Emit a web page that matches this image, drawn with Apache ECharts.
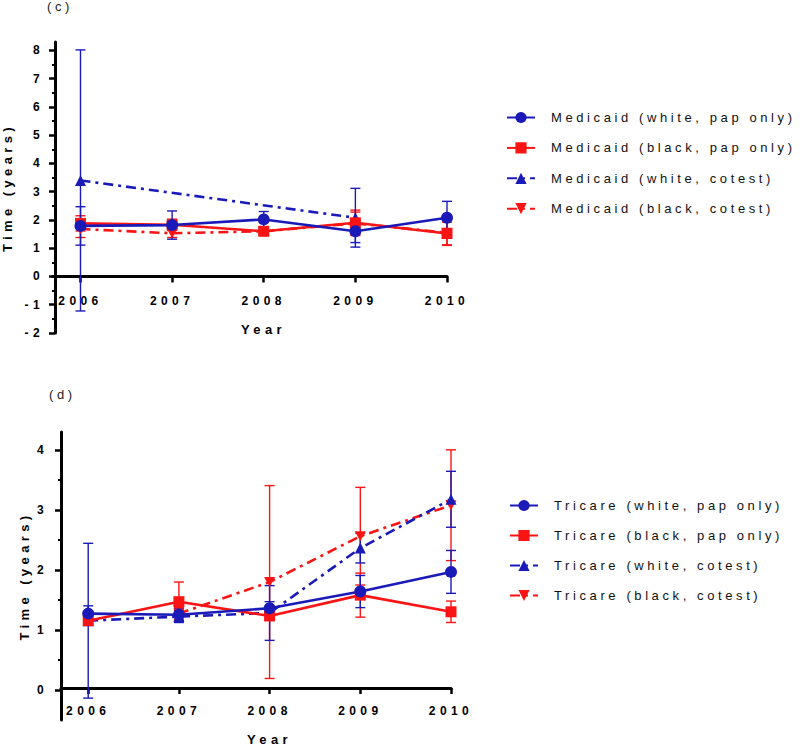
<!DOCTYPE html>
<html><head><meta charset="utf-8">
<script src="https://cdn.jsdelivr.net/npm/echarts@6/dist/echarts.min.js"></script>
<style>
html,body{margin:0;padding:0;background:#fff;}
#chart{width:800px;height:747px;}
#chart text{letter-spacing:3.6px;}
#chart text[style*="bold"]{letter-spacing:4.4px;}
</style></head><body><div id="chart"></div>
<script>
const years = [2006, 2007, 2008, 2009, 2010];
const yTicksC = [-2, -1, 0, 1, 2, 3, 4, 5, 6, 7, 8];
const yMinorC = [-1.5, -0.5, 0.5, 1.5, 2.5, 3.5, 4.5, 5.5, 6.5, 7.5];
const yTicksD = [0, 1, 2, 3, 4];
const yMinorD = [0.5, 1.5, 2.5, 3.5];

const medicaidNames = ['Medicaid (white, pap only)', 'Medicaid (black, pap only)', 'Medicaid (white, cotest)', 'Medicaid (black, cotest)'];
const medWhitePap = [1.79, 1.82, 2.02, 1.60, 2.08];
const medWhitePapErr = [0.68, 0.50, 0.28, 0.40, 0.58];
const medBlackPap = [1.88, 1.83, 1.60, 1.90, 1.52];
const medBlackPapErr = [0.27, 0.20, 0.10, 0.45, 0.40];
const medWhiteCotest = [3.40, null, null, 2.08, null];
const medWhiteCotestErr = [4.62, null, null, 1.04, null];
const medBlackCotest = [1.68, 1.53, 1.60, 1.88, 1.55];
const medBlackCotestErr = [0.30, 0.15, 0.10, 0.40, 0.45];

const tricareNames = ['Tricare (white, pap only)', 'Tricare (black, pap only)', 'Tricare (white, cotest)', 'Tricare (black, cotest)'];
const triWhitePap = [1.25, 1.23, 1.34, 1.62, 1.95];
const triWhitePapErr = [0.13, 0.10, 0.11, 0.27, 0.36];
const triBlackPap = [1.13, 1.45, 1.21, 1.56, 1.28];
const triBlackPapErr = [0.05, 0.33, 0.06, 0.37, 0.18];
const triWhiteCotest = [1.13, 1.20, 1.26, 2.35, 3.17];
const triWhiteCotestErr = [1.30, 0.10, 0.46, 0.25, 0.47];
const triBlackCotest = [null, 1.25, 1.78, 2.55, 3.07];
const triBlackCotestErr = [null, 0.10, 1.62, 0.82, 0.93];

const BLUE = '#1a1ab8';
const RED = '#fa1414';
const FONT = 'Arial, "Liberation Sans", sans-serif';
const DOWN_TRI = 'path://M0,0 L10,0 L5,9 Z';

// panel geometry: top panel y from -2 to 8.3, bottom panel from -0.5 to 4.3
const P = [
  { left: 53, top: 42, width: 394, height: 291, yMin: -2, yMax: 8.3, ticks: yTicksC, minor: yMinorC, nameGap: 41, lblMargin: 11, xMargin: 19, xNameGap: 47 },
  { left: 61, top: 432, width: 390, height: 288, yMin: -0.5, yMax: 4.3, ticks: yTicksD, minor: yMinorD, nameGap: 30, lblMargin: 13, xMargin: 17, xNameGap: 45 }
];

function pts(vals) {
  return years.map((y, i) => vals[i] == null ? null : [y, vals[i]]).filter(Boolean);
}
function lineSeries(name, vals, color, symbol, size, dashed, gi) {
  return {
    type: 'line', name: name, xAxisIndex: gi * 2, yAxisIndex: gi * 3,
    data: pts(vals), symbol: symbol, symbolSize: size, z: 3, clip: false,
    itemStyle: { color: color },
    lineStyle: { color: color, width: 2.6, type: dashed ? [10, 5, 3, 5] : 'solid' },
    emphasis: { disabled: true }
  };
}
function errSeries(vals, errs, color, gi) {
  const data = years.map((y, i) => vals[i] == null ? null : [y, vals[i] - errs[i], vals[i] + errs[i]]).filter(Boolean);
  return {
    type: 'custom', xAxisIndex: gi * 2, yAxisIndex: gi * 3, z: 1, silent: true, clip: false,
    encode: { x: 0, y: [1, 2] }, data: data,
    renderItem: function (params, api) {
      const x = api.value(0), lo = api.value(1), hi = api.value(2);
      const a = api.coord([x, lo]), b = api.coord([x, hi]);
      const w = 5, st = { stroke: color, lineWidth: 1.4 };
      return { type: 'group', children: [
        { type: 'line', shape: { x1: a[0], y1: a[1], x2: b[0], y2: b[1] }, style: st },
        { type: 'line', shape: { x1: a[0] - w, y1: a[1], x2: a[0] + w, y2: a[1] }, style: st },
        { type: 'line', shape: { x1: b[0] - w, y1: b[1], x2: b[0] + w, y2: b[1] }, style: st }
      ]};
    }
  };
}

const grids = [], xAxes = [], yAxes = [];
P.forEach(function (p, gi) {
  const unit = p.height / (p.yMax - p.yMin);
  const dataH = (p.yMax - 0) * unit;
  // data grid: bottom edge at y = 0
  grids.push({ left: p.left, top: p.top, width: p.width, height: dataH, containLabel: false });
  // frame grid: full y range
  grids.push({ left: p.left, top: p.top, width: p.width, height: p.height, containLabel: false });
  xAxes.push({
    type: 'value', gridIndex: gi * 2, min: 2005.7, max: 2010, position: 'bottom',
    axisLine: { onZero: false, lineStyle: { color: '#000', width: 3 } },
    axisTick: { customValues: years, length: 6, lineStyle: { color: '#000', width: 2.5 } },
    axisLabel: { customValues: years, margin: p.xMargin, color: '#000', fontWeight: 'bold', fontSize: 12, fontFamily: FONT,
      formatter: function (v) { return String(v); } },
    splitLine: { show: false },
    name: 'Year', nameLocation: 'middle', nameGap: p.xNameGap,
    nameTextStyle: { color: '#000', fontWeight: 'bold', fontSize: 13, fontFamily: FONT, padding: [0, 0, 0, 27] }
  });
  xAxes.push({ type: 'value', gridIndex: gi * 2 + 1, min: 2005.7, max: 2010, show: false });
  yAxes.push({ type: 'value', gridIndex: gi * 2, min: 0, max: p.yMax, show: false, position: 'left' });
  yAxes.push({
    type: 'value', gridIndex: gi * 2 + 1, min: p.yMin, max: p.yMax, position: 'left',
    axisLine: { show: true, onZero: false, lineStyle: { color: '#000', width: 3 } },
    axisTick: { show: true, customValues: p.ticks, length: 6, lineStyle: { color: '#000', width: 2.5 } },
    axisLabel: { customValues: p.ticks, margin: p.lblMargin, color: '#000', fontWeight: 'bold', fontSize: 12, fontFamily: FONT },
    splitLine: { show: false },
    name: 'Time (years)', nameLocation: 'middle', nameGap: p.nameGap,
    nameTextStyle: { color: '#000', fontWeight: 'bold', fontSize: 13, fontFamily: FONT }
  });
  yAxes.push({
    type: 'value', gridIndex: gi * 2 + 1, min: p.yMin, max: p.yMax, position: 'left', offset: 0,
    axisLine: { show: false, onZero: false },
    axisTick: { show: true, customValues: p.minor, length: 3, lineStyle: { color: '#000', width: 2 } },
    axisLabel: { show: false }, splitLine: { show: false }
  });
});

function legend(names, left, top, gap) {
  return {
    orient: 'vertical', left: left, top: top, padding: 0, itemWidth: 28, itemHeight: 14, itemGap: gap,
    selectedMode: false, data: names,
    textStyle: { color: '#111', fontSize: 13, fontFamily: FONT, padding: [0, 0, 0, 11] }
  };
}

const chart = echarts.init(document.getElementById('chart'), null, { renderer: 'svg' });
chart.setOption({
  animation: false,
  backgroundColor: '#fff',
  title: [
    { text: '(c)', left: 47, top: 0, padding: 0, textStyle: { fontSize: 13, fontWeight: 'normal', color: '#222', fontFamily: FONT } },
    { text: '(d)', left: 49, top: 388, padding: 0, textStyle: { fontSize: 13, fontWeight: 'normal', color: '#222', fontFamily: FONT } }
  ],
  legend: [
    legend(medicaidNames, 506, 111, 17.4),
    legend(tricareNames, 509, 499, 17.0)
  ],
  grid: grids,
  xAxis: xAxes,
  yAxis: yAxes,
  series: [
    errSeries(medBlackCotest, medBlackCotestErr, RED, 0),
    errSeries(medBlackPap, medBlackPapErr, RED, 0),
    errSeries(medWhiteCotest, medWhiteCotestErr, BLUE, 0),
    errSeries(medWhitePap, medWhitePapErr, BLUE, 0),
    lineSeries(medicaidNames[3], medBlackCotest, RED, DOWN_TRI, [11, 10], true, 0),
    lineSeries(medicaidNames[2], medWhiteCotest, BLUE, 'triangle', 11, true, 0),
    lineSeries(medicaidNames[1], medBlackPap, RED, 'rect', 11, false, 0),
    lineSeries(medicaidNames[0], medWhitePap, BLUE, 'circle', 12, false, 0),

    errSeries(triBlackCotest, triBlackCotestErr, RED, 1),
    errSeries(triBlackPap, triBlackPapErr, RED, 1),
    errSeries(triWhiteCotest, triWhiteCotestErr, BLUE, 1),
    errSeries(triWhitePap, triWhitePapErr, BLUE, 1),
    lineSeries(tricareNames[3], triBlackCotest, RED, DOWN_TRI, [11, 10], true, 1),
    lineSeries(tricareNames[2], triWhiteCotest, BLUE, 'triangle', 11, true, 1),
    lineSeries(tricareNames[1], triBlackPap, RED, 'rect', 11, false, 1),
    lineSeries(tricareNames[0], triWhitePap, BLUE, 'circle', 12, false, 1)
  ]
});
</script></body></html>
